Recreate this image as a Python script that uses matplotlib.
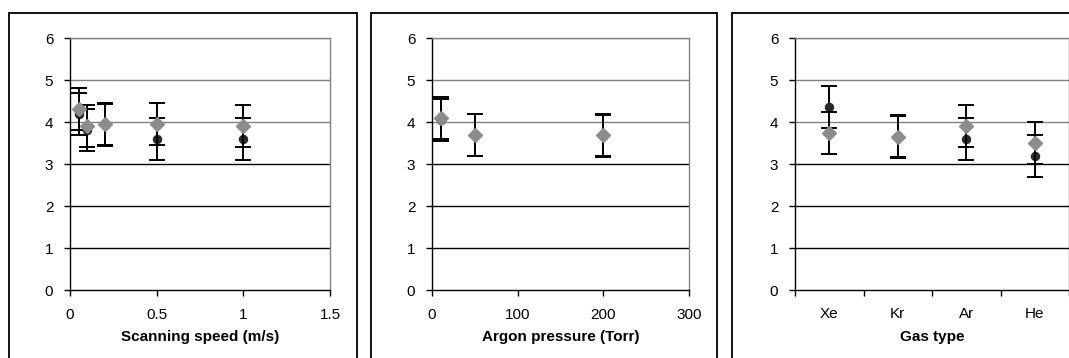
import matplotlib
matplotlib.use("Agg")
import matplotlib.pyplot as plt
from matplotlib.patches import Rectangle
import numpy as np

plt.rcParams['font.family'] = ['Liberation Sans', 'DejaVu Sans']

# ---- data ----
speed_x = [0.05, 0.1, 0.2, 0.5, 1.0]
speed_circle = [4.2, 3.8, 3.93, 3.6, 3.6]
speed_diamond = [4.3, 3.9, 3.95, 3.95, 3.9]

press_x = [10, 50, 200]
press_circle = [4.05, 3.7, 3.66]
press_diamond = [4.1, 3.7, 3.7]

gas_labels = ["Xe", "Kr", "Ar", "He"]
gas_circle = [4.35, 3.67, 3.6, 3.2]
gas_diamond = [3.75, 3.65, 3.9, 3.5]

err = 0.5
yticks = [0, 1, 2, 3, 4, 5, 6]

W, H = 1069, 358
fig = plt.figure(figsize=(W / 100, H / 100), dpi=100)

# panel frames (pixel coords)
frames = [(9, 13, 357, 380), (371, 13, 717, 380), (732, 13, 1080, 380)]
for (x0, y0, x1, y1) in frames:
    fig.patches.append(Rectangle((x0 / W, 1 - y1 / H), (x1 - x0) / W, (y1 - y0) / H,
                                 transform=fig.transFigure, fill=False,
                                 edgecolor='black', linewidth=1.3, clip_on=False))

axes_px = [(70, 330), (432, 689), (795, 1069)]
bottom = 1 - 290 / H
height = (290 - 38) / H
axes = [fig.add_axes([l / W, bottom, (r - l) / W, height]) for (l, r) in axes_px]

dark = '#2a2a2a'
grayc = '#8c8c8c'
gridgray = '#808080'
TICK_FS = 11
LABEL_FS = 11

def style(ax):
    ax.set_ylim(0, 6)
    ax.set_yticks(yticks)
    for v in yticks[1:]:
        ax.axhline(v, color=(gridgray if v >= 4 else 'black'), lw=1.0, zorder=1)
    ax.spines['left'].set_color('black')
    ax.spines['bottom'].set_color('black')
    ax.spines['top'].set_color(gridgray)
    ax.spines['right'].set_color(gridgray)
    for s in ax.spines.values():
        s.set_linewidth(1.0)
    ax.tick_params(axis='y', direction='out', length=4, width=1, pad=8, labelsize=TICK_FS)
    ax.tick_params(axis='x', direction='out', length=4, width=1, pad=9, labelsize=TICK_FS)

def draw(ax, x, c, d):
    ax.errorbar(x, c, yerr=err, fmt='o', color=dark, ms=5.8, ecolor='black',
                elinewidth=1.4, capsize=5.5, capthick=1.4, zorder=3)
    ax.errorbar(x, d, yerr=err, fmt='D', color=grayc, ms=7.5, ecolor='black',
                elinewidth=1.4, capsize=5.5, capthick=1.4, zorder=4)

ax1, ax2, ax3 = axes
style(ax1)
draw(ax1, speed_x, speed_circle, speed_diamond)
ax1.set_xlim(0, 1.5)
ax1.set_xticks([0, 0.5, 1, 1.5])
ax1.set_xticklabels(["0", "0.5", "1", "1.5"])
ax1.set_xlabel("Scanning speed (m/s)", fontsize=LABEL_FS, fontweight='bold', labelpad=6)

style(ax2)
draw(ax2, press_x, press_circle, press_diamond)
ax2.set_xlim(0, 300)
ax2.set_xticks([0, 100, 200, 300])
ax2.set_xlabel("Argon pressure (Torr)", fontsize=LABEL_FS, fontweight='bold', labelpad=6)

style(ax3)
pos = np.arange(len(gas_labels))
draw(ax3, pos, gas_circle, gas_diamond)
ax3.set_xlim(-0.5, len(gas_labels) - 0.5)
ax3.set_xticks(pos)
ax3.set_xticklabels(gas_labels)
ax3.set_xticks(np.arange(-0.5, len(gas_labels)), minor=True)
ax3.tick_params(axis='x', which='major', length=0, pad=12.5)
ax3.tick_params(axis='x', which='minor', direction='out', length=4, width=1)
ax3.set_xlabel("Gas type", fontsize=LABEL_FS, fontweight='bold', labelpad=6)

fig.savefig("out.png", dpi=100)
